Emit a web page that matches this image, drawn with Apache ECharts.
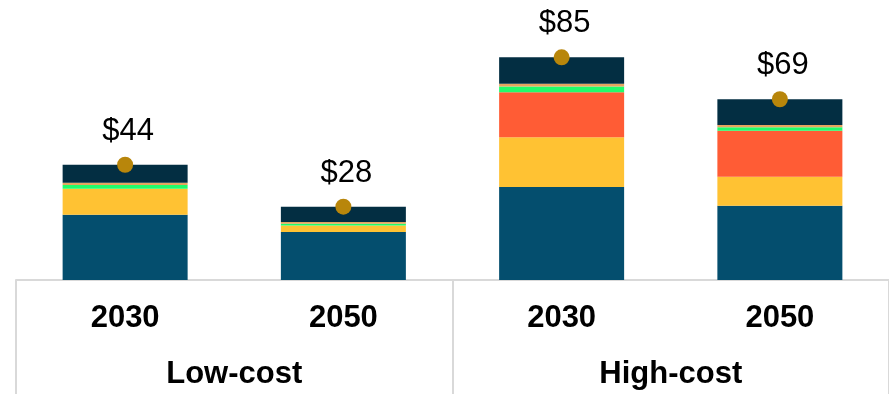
<!DOCTYPE html>
<html>
<head>
<meta charset="utf-8">
<script src="https://cdn.jsdelivr.net/npm/echarts@6/dist/echarts.min.js"></script>
<style>
html,body{margin:0;padding:0;background:#fff;}
#chart{width:889px;height:394px;}
</style>
</head>
<body>
<div id="chart"></div>
<script>
var years = ['2030', '2050', '2030', '2050'];
var groups = ['Low-cost', 'High-cost'];
var seg1 = [24.9, 18.3, 35.5, 28.3];
var seg2 = [9.9, 2.5, 19.0, 11.1];
var seg3 = [0, 0, 17.2, 17.6];
var seg4 = [1.5, 0.7, 2.2, 1.3];
var seg5 = [0.8, 0.6, 1.0, 0.9];
var seg6 = [6.9, 5.9, 10.1, 9.8];
var totals = [44, 28, 85, 69];

var FONT = '"Liberation Sans", Arial, sans-serif';
var segs = [seg1, seg2, seg3, seg4, seg5, seg6];
var colors = ['#044e6e', '#ffc233', '#ff5c35', '#22fc6b', '#e6a55f', '#032e42'];
var names = ['Segment 1', 'Segment 2', 'Segment 3', 'Segment 4', 'Segment 5', 'Segment 6'];

var series = segs.map(function (d, i) {
  return {
    name: names[i], type: 'bar', stack: 'total', xAxisIndex: 0,
    barWidth: 125, data: d,
    itemStyle: { color: colors[i] },
    silent: true
  };
});
series.push({
  name: 'Total', type: 'scatter', xAxisIndex: 0, data: totals,
  symbolSize: 16, itemStyle: { color: '#b8860b', opacity: 1 }, z: 5,
  label: {
    show: true, position: 'top', distance: 10, offset: [3, 0],
    formatter: function (p) { return '$' + p.value; },
    fontFamily: FONT, fontSize: 31, color: '#000'
  }
});

var chart = echarts.init(document.getElementById('chart'), null, { renderer: 'canvas' });
chart.setOption({
  animation: false,
  grid: { left: 16, width: 876, top: 18, bottom: 114 },
  xAxis: [{
    type: 'category', data: years, position: 'bottom',
    axisLine: { show: true, lineStyle: { color: '#d9d9d9', width: 2 } },
    axisTick: { show: false },
    axisLabel: { fontFamily: FONT, fontSize: 31, fontWeight: 'bold', color: '#000', margin: 23 }
  }, {
    type: 'category', data: groups, position: 'bottom',
    axisLine: { show: false },
    axisTick: { show: true, length: 120, interval: 0, lineStyle: { color: '#d9d9d9', width: 2 } },
    axisLabel: { fontFamily: FONT, fontSize: 31, fontWeight: 'bold', color: '#000', margin: 79 }
  }],
  yAxis: { type: 'value', min: 0, max: 100, show: false, splitLine: { show: false } },
  series: series
});
</script>
</body>
</html>
